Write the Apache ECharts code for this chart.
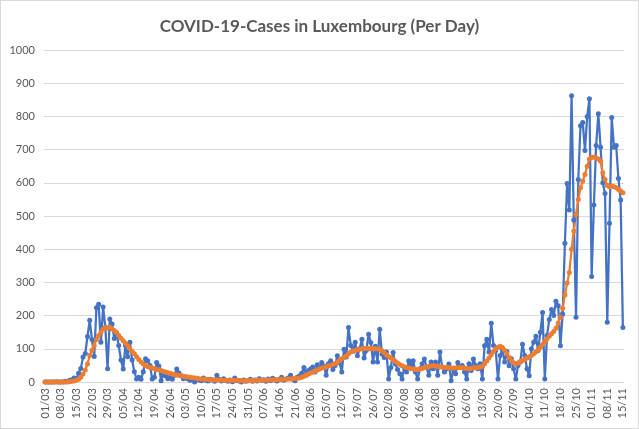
<!DOCTYPE html>
<html>
<head>
    <meta charset="UTF-8">
    <title>COVID-19-Cases in Luxembourg</title>
    <script src="https://cdn.jsdelivr.net/npm/echarts@6/dist/echarts.min.js"></script>
    <style>
        html, body { margin: 0; padding: 0; background: #fff; }
        #chart { width: 639px; height: 429px; box-sizing: border-box; border: 1px solid #d9d9d9; }
    </style>
</head>
<body>
<div id="chart"></div>
<script>
    // daily new cases, one array per month (2020)
    var casesMar = [0,0,0,0,0,1,0,0,0,2,1,5,7,12,9,26,41,75,86,137,186,128,77,224,234,120,226,165,40,190,175];
    var casesApr = [131,148,110,66,39,110,76,120,66,31,9,14,8,31,70,64,50,9,14,59,48,4,24,18,10,15,8,20,39,27];
    var casesMay = [19,10,15,9,5,8,0,10,6,4,12,5,3,8,6,2,20,8,3,10,5,2,6,1,12,4,3,0,6,2,4];
    var casesJun = [8,2,6,3,10,5,7,2,9,4,11,6,3,8,14,5,9,12,20,8,4,14,18,26,44,20,35,39,45,30];
    var casesJul = [52,40,59,48,20,55,64,38,50,79,58,30,99,75,164,110,92,120,79,100,129,72,95,144,119,60,108,60,159,84,74];
    var casesAug = [90,9,44,89,54,38,25,9,44,30,64,50,64,30,9,40,55,69,45,20,60,40,60,20,90,45,30,40,54,4,38];
    var casesSep = [25,59,45,50,30,9,55,35,69,50,40,55,9,109,129,90,177,110,95,9,80,99,60,92,49,70,40,9,50,60];
    var casesOct = [114,80,40,19,100,120,138,95,150,209,9,140,188,218,200,243,230,109,205,418,598,518,862,488,195,610,772,782,697,800,853];
    var casesNov = [318,533,712,808,707,600,568,180,478,797,707,712,613,548,164];

    // 7-day average
    var avgMar = [0,0,0,0,0,0,0,0,0,0,0,1,2,3,5,8,14,24,36,54,80,96,110,128,140,150,160,164,163,165,160];
    var avgApr = [155,148,140,132,124,117,110,101,92,85,76,68,60,54,50,47,44,42,40,38,37,35,32,30,28,26,24,22,21,20];
    var avgMay = [19,17,16,15,14,13,12,11,10,9,9,8,8,7,7,6,6,6,6,5,5,5,5,5,5,5,5,4,4,4,4];
    var avgJun = [4,4,5,5,5,5,5,6,6,6,6,7,7,7,8,8,8,9,9,10,11,11,12,14,17,20,24,27,30,33];
    var avgJul = [36,39,42,44,46,48,50,53,56,60,65,70,74,79,85,90,93,95,97,99,100,101,102,101,100,101,100,100,98,94,88];
    var avgAug = [82,77,72,68,62,57,53,49,46,44,42,40,39,38,38,39,41,43,45,47,48,49,48,47,46,45,44,44,43,42,42];
    var avgSep = [42,43,44,43,42,41,40,41,42,44,44,45,47,55,63,72,82,92,100,105,108,104,96,86,74,65,58,55,57,62];
    var avgOct = [65,68,72,76,80,85,90,97,105,113,122,130,138,145,152,162,178,195,222,262,298,330,400,455,505,550,585,605,625,650,672];
    var avgNov = [676,678,675,672,665,630,610,592,588,590,588,585,580,575,570];

    var cases = [].concat(casesMar, casesApr, casesMay, casesJun, casesJul, casesAug, casesSep, casesOct, casesNov);
    var avg7 = [].concat(avgMar, avgApr, avgMay, avgJun, avgJul, avgAug, avgSep, avgOct, avgNov);

    // dd/mm labels from 01/03 on
    var days = [];
    var d = new Date(2020, 2, 1);
    for (var i = 0; i < cases.length; i++) {
        var dd = ('0' + d.getDate()).slice(-2);
        var mm = ('0' + (d.getMonth() + 1)).slice(-2);
        days.push(dd + '/' + mm);
        d.setDate(d.getDate() + 1);
    }

    var font = 'Lato, "Open Sans", sans-serif';
    var myChart = echarts.init(document.getElementById('chart'));
    var option = {
        animation: false,
        title: {
            text: 'COVID-19-Cases in Luxembourg (Per Day)',
            left: 'center',
            top: 12,
            textStyle: { fontFamily: font, fontSize: 17, fontWeight: 'bold', color: '#595959' }
        },
        grid: { left: 43, right: 14, top: 49, bottom: 46 },
        xAxis: {
            type: 'category',
            data: days,
            boundaryGap: true,
            axisTick: { show: false },
            axisLine: { lineStyle: { color: '#d9d9d9' } },
            axisLabel: { interval: 6, rotate: 90, fontFamily: font, fontSize: 11, color: '#595959', margin: 6 }
        },
        yAxis: {
            type: 'value',
            min: 0,
            max: 1000,
            interval: 100,
            axisLine: { show: false },
            axisTick: { show: false },
            axisLabel: {
                fontFamily: font, fontSize: 11, color: '#595959', margin: 9,
                formatter: function (v) { return String(v); }
            },
            splitLine: { lineStyle: { color: '#d9d9d9' } }
        },
        series: [
            {
                name: 'Cases',
                type: 'line',
                data: cases,
                symbol: 'circle',
                symbolSize: 5,
                showAllSymbol: true,
                lineStyle: { width: 2.25, color: '#4472c4' },
                itemStyle: { color: '#4472c4' }
            },
            {
                name: '7-day average',
                type: 'line',
                data: avg7,
                symbol: 'circle',
                symbolSize: 5,
                showAllSymbol: true,
                lineStyle: { width: 2.25, color: '#ed7d31' },
                itemStyle: { color: '#ed7d31' }
            }
        ]
    };
    myChart.setOption(option);
</script>
</body>
</html>
